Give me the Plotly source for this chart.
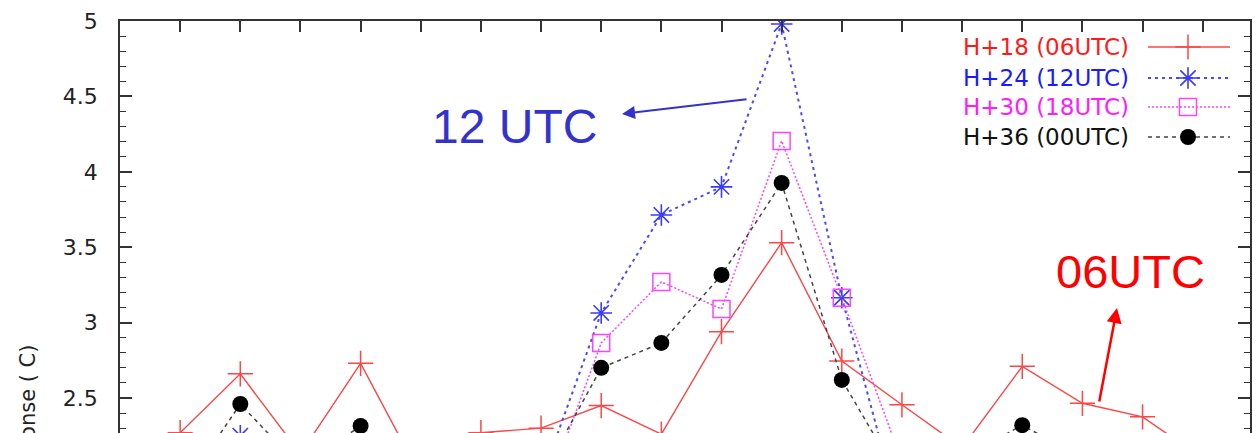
import plotly.graph_objects as go

# ---------------- data ----------------
steps = list(range(1, 19))
h18 = [2.27, 2.66, 2.13, 2.73, 1.98, 2.27, 2.30, 2.45, 2.26, 2.94, 3.53, 2.745, 2.455, 2.17, 2.71, 2.465, 2.375, 2.10]
h24 = [2.05, 2.25, 2.00, 2.10, 1.95, 2.00, 1.96, 3.064, 3.714, 3.90, 4.98, 3.165, 1.68, 2.00, 2.20, 2.05, 2.00, 1.90]
h30 = [2.00, 2.20, 2.00, 2.10, 1.90, 1.95, 1.78, 2.865, 3.27, 3.09, 4.205, 3.165, 2.08, 1.90, 2.15, 2.00, 1.95, 1.85]
h36 = [1.87, 2.46, 2.04, 2.315, 2.00, 1.95, 1.97, 2.70, 2.865, 3.316, 3.926, 2.62, 1.94, 2.10, 2.32, 2.10, 2.00, 1.90]

series_names = ["H+18 (06UTC)", "H+24 (12UTC)", "H+30 (18UTC)", "H+36 (00UTC)"]
y_ticks = [2.5, 3, 3.5, 4, 4.5, 5]

# ---------------- styles ----------------
styles = [
    dict(line=dict(color="#ff4545", width=1.4),
         marker=dict(symbol="cross-thin", size=18, color="#ff4545", line=dict(color="#ff4545", width=1.5)),
         text="#ff1a1a"),
    dict(line=dict(color="#4a4aff", width=2, dash="3px,4px"),
         marker=dict(symbol="asterisk-open", size=18, color="#3a3aff", line=dict(color="#3a3aff", width=1.6)),
         text="#1a1aff"),
    dict(line=dict(color="#ff44ff", width=1.5, dash="2px,2px"),
         marker=dict(symbol="square-open", size=17, color="#ff44ff", line=dict(color="#ff44ff", width=1.5)),
         text="#ff1aff"),
    dict(line=dict(color="#444444", width=1.5, dash="4px,4px"),
         marker=dict(symbol="circle", size=16, color="#000000"),
         text="#111111"),
]

W, H = 1260, 433
L, R, T, B = 120, 10, 21, 0
plot_w = W - L - R
plot_h = H - T - B
px_per_unit_y = 150.8
ymax = 5.0
ymin = ymax - plot_h / px_per_unit_y
xmax = plot_w / 60.15

fig = go.Figure()
for name, vals, st in zip(series_names, [h18, h24, h30, h36], styles):
    fig.add_trace(go.Scatter(x=steps, y=vals, mode="lines+markers", name=name,
                             line=st["line"], marker=st["marker"], showlegend=False,
                             cliponaxis=True))

# ---------------- manual legend (text left of key, like gnuplot) ----------------
def px_to_paper_x(px):
    return (px - L) / plot_w

def px_to_paper_y(py):
    return (H - B - py) / plot_h

legend_rows_y = [47, 78, 107, 137]
for name, st, ry in zip(series_names, styles, legend_rows_y):
    fig.add_annotation(xref="paper", yref="paper", x=px_to_paper_x(1131), y=px_to_paper_y(ry),
                       text=name, showarrow=False, xanchor="right", yanchor="middle",
                       font=dict(family="DejaVu Sans", size=23, color=st["text"]))
    fig.add_trace(go.Scatter(x=[1148, 1230], y=[ry, ry], mode="lines", line=st["line"],
                             xaxis="x2", yaxis="y2", showlegend=False, hoverinfo="skip"))
    fig.add_trace(go.Scatter(x=[1188], y=[ry], mode="markers", marker=st["marker"],
                             xaxis="x2", yaxis="y2", showlegend=False, hoverinfo="skip"))

# ---------------- annotations ----------------
fig.add_annotation(xref="paper", yref="paper", x=px_to_paper_x(514), y=px_to_paper_y(126),
                   text="12 UTC", showarrow=False, xanchor="center", yanchor="middle",
                   font=dict(family="Liberation Sans", size=48, color="#3333cc"))
fig.add_annotation(xref="paper", yref="paper", x=px_to_paper_x(622), y=px_to_paper_y(114),
                   ax=126, ay=-15, text="", showarrow=True, arrowhead=2, arrowsize=1.3,
                   arrowwidth=2, arrowcolor="#3333cc")
fig.add_annotation(xref="paper", yref="paper", x=px_to_paper_x(1130), y=px_to_paper_y(271),
                   text="06UTC", showarrow=False, xanchor="center", yanchor="middle",
                   font=dict(family="Liberation Sans", size=47, color="#ff0000"))
fig.add_annotation(xref="paper", yref="paper", x=px_to_paper_x(1117), y=px_to_paper_y(308),
                   ax=-18, ay=95, text="", showarrow=True, arrowhead=2, arrowsize=1.2,
                   arrowwidth=2.5, arrowcolor="#ff0000")

# y-axis title (partly cut off at the bottom, as in the reference)
fig.add_annotation(xref="paper", yref="paper", x=px_to_paper_x(28), y=px_to_paper_y(343),
                   text="Temperature response ( C)", textangle=-90, showarrow=False,
                   xanchor="center", yanchor="top",
                   font=dict(family="DejaVu Sans", size=21, color="#222222"))

fig.update_layout(
    width=W, height=H,
    margin=dict(l=L, r=R, t=T, b=B, pad=0),
    paper_bgcolor="white", plot_bgcolor="white",
    showlegend=False,
    xaxis=dict(range=[0, xmax], side="top", showgrid=False, zeroline=False,
               showline=True, linecolor="#333333", linewidth=2,
               ticks="inside", ticklen=11, tickwidth=1.5, tickcolor="#333333",
               tickmode="linear", tick0=0, dtick=1, showticklabels=False),
    yaxis=dict(range=[ymin, ymax], showgrid=False, zeroline=False,
               showline=True, linecolor="#333333", linewidth=1.5, mirror="ticks",
               ticks="inside", ticklen=12, tickwidth=1.5, tickcolor="#333333",
               tickmode="array", tickvals=y_ticks, ticktext=[f"{v:g}" for v in y_ticks],
               ticklabelstandoff=16,
               tickfont=dict(family="DejaVu Sans", size=22, color="#222222"),
               minor=dict(dtick=0.1, tick0=0, ticks="inside", ticklen=6, tickwidth=1, tickcolor="#333333")),
    xaxis2=dict(range=[L, W - R], overlaying="x", visible=False, anchor="y2"),
    yaxis2=dict(range=[H - B, T], overlaying="y", visible=False, anchor="x2"),
)

fig.write_html("out.html")
